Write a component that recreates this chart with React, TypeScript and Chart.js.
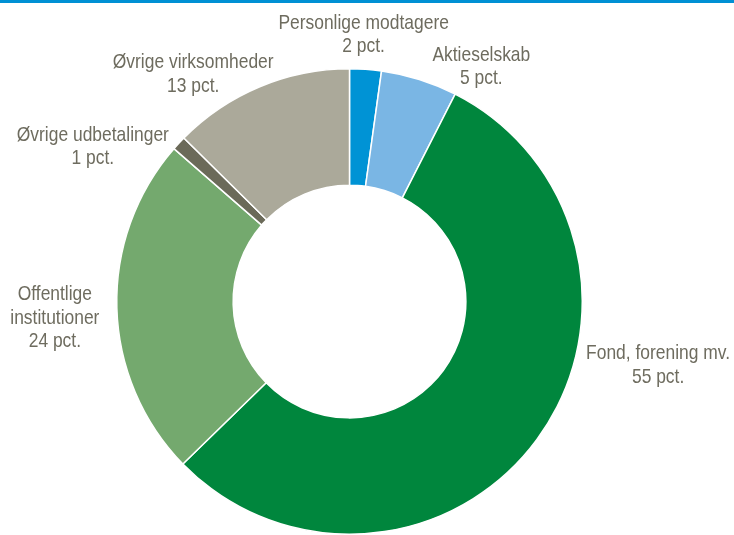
import React, { useEffect, useRef } from "react";
import { Chart, registerables } from "chart.js";

Chart.register(...registerables);

const categories = [
  "Personlige modtagere",
  "Aktieselskab",
  "Fond, forening mv.",
  "Offentlige institutioner",
  "Øvrige udbetalinger",
  "Øvrige virksomheder",
];
const shares = [2.2, 5.3, 55.2, 23.7, 1.0, 12.6];
const labelLines = [
  ["Personlige modtagere", "2 pct."],
  ["Aktieselskab", "5 pct."],
  ["Fond, forening mv.", "55 pct."],
  ["Offentlige", "institutioner", "24 pct."],
  ["Øvrige udbetalinger", "1 pct."],
  ["Øvrige virksomheder", "13 pct."],
];
const colors = ["#0093D5", "#7AB6E4", "#00863D", "#74A96E", "#6B6A59", "#ABA99A"];

// label nudges relative to a point just outside the arc's mid-angle
const labelNudge = [
  [-4, -5],
  [53, 16],
  [97, -92],
  [-32, 9],
  [-64, 24],
  [-55, 15],
];

const FONT = "21px 'Liberation Sans', Arial, sans-serif";
const SQUEEZE = 0.83;

const labelPlugin = {
  id: "outerLabels",
  afterDatasetsDraw(chart: any) {
    const ctx = chart.ctx;
    const meta = chart.getDatasetMeta(0);
    meta.data.forEach((arc: any, i: number) => {
      const p = arc.getProps(["x", "y", "startAngle", "endAngle", "outerRadius"], true);
      const mid = (p.startAngle + p.endAngle) / 2;
      const r = p.outerRadius + 30;
      const cx = p.x + Math.cos(mid) * r + labelNudge[i][0];
      const cy = p.y + Math.sin(mid) * r + labelNudge[i][1];
      const lines = labelLines[i];
      const lh = 23.3;
      const top = cy - ((lines.length - 1) * lh) / 2;
      lines.forEach((t, k) => {
        ctx.save();
        ctx.font = FONT;
        ctx.fillStyle = "#6E6C5F";
        ctx.textAlign = "center";
        ctx.textBaseline = "middle";
        ctx.translate(cx, top + k * lh);
        ctx.scale(SQUEEZE, 1);
        ctx.fillText(t, 0, 0);
        ctx.restore();
      });
    });
  },
};

export default function App() {
  const ref = useRef<HTMLCanvasElement>(null);
  useEffect(() => {
    if (!ref.current) return;
    const chart = new Chart(ref.current, {
      type: "doughnut",
      data: {
        labels: categories,
        datasets: [
          {
            data: shares,
            backgroundColor: colors,
            borderColor: "#FFFFFF",
            borderWidth: 1.5,
          },
        ],
      },
      options: {
        responsive: false,
        animation: false,
        cutout: "50%",
        layout: { padding: { left: 116, right: 151, top: 68, bottom: 0 } },
        plugins: { legend: { display: false }, tooltip: { enabled: false } },
      },
      plugins: [labelPlugin],
    });
    return () => chart.destroy();
  }, []);
  return (
    <div style={{ position: "absolute", left: 0, top: 0, width: 734, height: 535, background: "#fff" }}>
      <canvas ref={ref} width={734} height={535} style={{ display: "block" }} />
      <div style={{ position: "absolute", left: 0, top: 0, width: 734, height: 3, background: "#0090D4" }} />
    </div>
  );
}
